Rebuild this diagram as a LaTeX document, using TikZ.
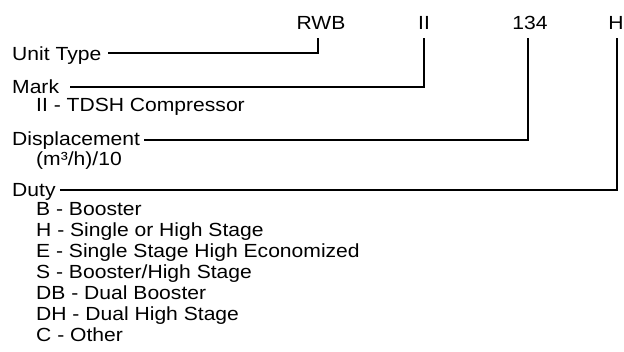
\documentclass[tikz,border=0pt]{standalone}
\usepackage{fontspec}
\setmainfont[FakeStretch=1.11]{Liberation Sans}
\begin{document}
\begin{tikzpicture}[x=1pt,y=-1pt,
  txt/.style={font=\fontsize{19}{21}\selectfont, inner sep=0pt, anchor=base west},
  code/.style={font=\fontsize{19}{21}\selectfont, inner sep=0pt, anchor=base},
  ln/.style={line width=1.3pt, line cap=butt, line join=miter}]
\useasboundingbox (0,0) rectangle (624,352);
% code letters
\node[code] (rwb) at (321,30) {RWB};
\node[code] (ii) at (424,30) {II};
\node[code] (n134) at (530,30) {134};
\node[code] (h) at (616,30) {H};
% labels
\node[txt] (unit) at (12,61) {Unit Type};
\node[txt] (mark) at (12,94) {Mark};
\node[txt] (markii) at (36,112) {II - TDSH Compressor};
\node[txt] (disp) at (12,146) {Displacement};
\node[txt] (dispu) at (36,166) {(m³/h)/10};
\node[txt] (duty) at (12,197) {Duty};
\node[txt] (d1) at (36,216) {B - Booster};
\node[txt] (d2) at (36,237) {H - Single or High Stage};
\node[txt] (d3) at (36,258) {E - Single Stage High Economized};
\node[txt] (d4) at (36,279) {S - Booster/High Stage};
\node[txt] (d5) at (36,300) {DB - Dual Booster};
\node[txt] (d6) at (36,321) {DH - Dual High Stage};
\node[txt] (d7) at (36,342) {C - Other};
% connectors
\draw[ln] ([xshift=7pt,yshift=8pt]unit.base east) -| ([xshift=-3pt,yshift=-8pt]rwb.south);
\draw[ln] ([xshift=11pt,yshift=7pt]mark.base east) -| ([yshift=-8pt]ii.south);
\draw[ln] ([xshift=4pt,yshift=6pt]disp.base east) -| ([xshift=-2pt,yshift=-8pt]n134.south);
\draw[ln] ([xshift=4pt,yshift=7pt]duty.base east) -| ([xshift=1pt,yshift=-8pt]h.south);
\end{tikzpicture}
\end{document}
